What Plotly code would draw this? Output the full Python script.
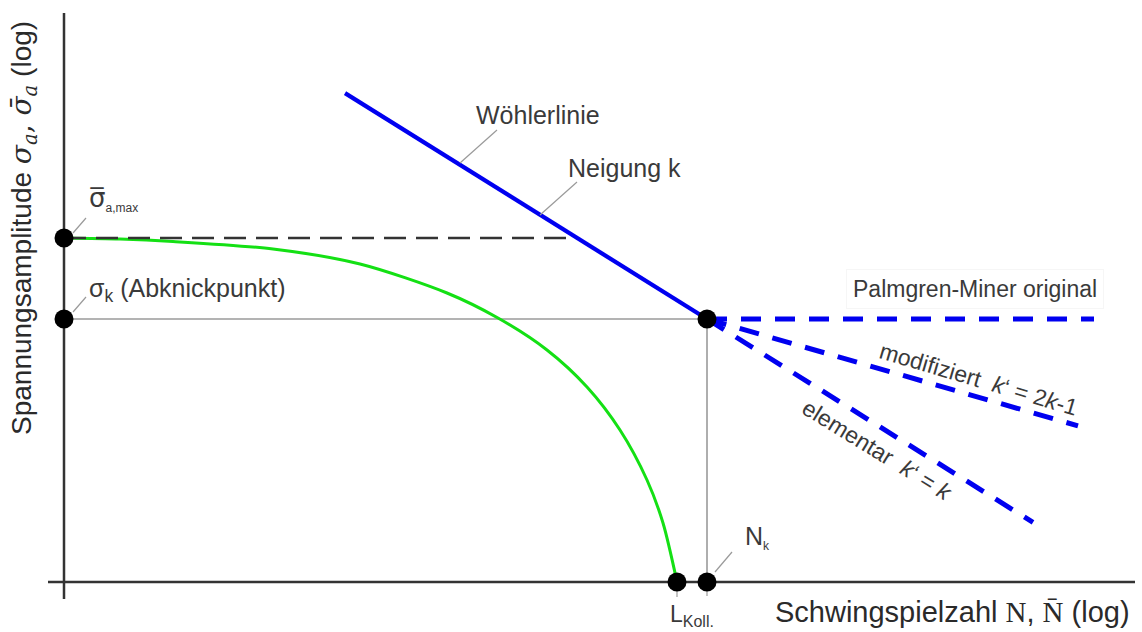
import plotly.graph_objects as go

# Coordinates: x = log N, y = log sigma (arbitrary log units, origin at the axis cross)
sigma_a_max = 3.44          # level of the highest collective amplitude
sigma_k = 2.63              # knee-point amplitude (Abknickpunkt)
N_k = 6.43                  # knee-point cycle number
L_koll = 6.13               # collective life
N_woehler_start = 2.81      # left end of the drawn S-N line
slope_k = 0.624             # Wöhler slope (in plot units)

# Extensions beyond the knee: end N and slope
ext_names = ["Palmgren-Miner original", "modifiziert", "elementar"]
ext_end_N = [10.30, 10.14, 9.69]
ext_slope = [0.0, 0.288, 0.624]

# Load collective (Kollektiv) curve
koll_N = [0.0, 0.56, 1.09, 2.09, 2.96, 3.83, 4.34, 4.83, 5.23, 5.56, 5.83, 5.99, 6.13]
koll_S = [3.44, 3.43, 3.405, 3.33, 3.18, 2.89, 2.64, 2.32, 1.95, 1.52, 1.02, 0.59, 0.0]

# Axis extents
x_axis_span = [-0.16, 10.71]
y_axis_span = [-0.17, 5.69]

BLUE = "#0000f0"
GREEN = "#14e014"
AXIS = "#333333"
THIN = "#9a9a9a"
TXT = "#3a3a3a"
SANS = "Liberation Sans, Arial, sans-serif"

fig = go.Figure()


def line(x, y, color, width, dash="solid", shape="linear", smoothing=1.0):
    fig.add_trace(go.Scatter(x=x, y=y, mode="lines", hoverinfo="skip",
                             line=dict(color=color, width=width, dash=dash, shape=shape,
                                       smoothing=smoothing)))


# coordinate axes
line([0, 0], y_axis_span, AXIS, 2.5)
line(x_axis_span, [0, 0], AXIS, 2.5)

# thin reference lines through the knee point
line([0, N_k], [sigma_k, sigma_k], THIN, 1.6)
line([N_k, N_k], [sigma_k, 0], THIN, 1.6)

# small ticks under the points on the N axis
line([L_koll, L_koll], [-0.06, -0.15], THIN, 1.2)
line([N_k, N_k], [-0.06, -0.14], THIN, 1.2)

# collective curve
line(koll_N, koll_S, GREEN, 3, shape="spline", smoothing=0.8)

# dashed level of sigma_a,max up to the S-N line
x_cross = N_k - (sigma_a_max - sigma_k) / slope_k
line([0, x_cross], [sigma_a_max, sigma_a_max], AXIS, 2.6, dash="22px,10px")

# S-N line (Wöhlerlinie)
line([N_woehler_start, N_k],
     [sigma_k + slope_k * (N_k - N_woehler_start), sigma_k], BLUE, 4.2)

# extensions beyond the knee
for xe, s in zip(ext_end_N, ext_slope):
    line([N_k, xe], [sigma_k, sigma_k - s * (xe - N_k)], BLUE, 5, dash="20px,14px")

# leader lines for the labels
leaders = [
    ([4.33, 3.96], [4.52, 4.19]),
    ([5.13, 4.76], [4.00, 3.67]),
    ([0.09, 0.22], [3.49, 3.64]),
    ([0.09, 0.22], [2.70, 2.85]),
    ([6.51, 6.68], [0.10, 0.30]),
]
for lx, ly in leaders:
    line(lx, ly, THIN, 1.2)

# characteristic points
fig.add_trace(go.Scatter(
    x=[0, 0, N_k, L_koll, N_k], y=[sigma_a_max, sigma_k, sigma_k, 0, 0],
    mode="markers", hoverinfo="skip",
    marker=dict(size=19, color="black")))


def note(x, y, text, size, xanchor="center", yanchor="middle", angle=0, color=TXT, **kw):
    fig.add_annotation(x=x, y=y, text=text, showarrow=False, xanchor=xanchor,
                       yanchor=yanchor, textangle=angle,
                       font=dict(family=SANS, size=size, color=color), **kw)


note(4.74, 4.67, "Wöhlerlinie", 25)
note(5.60, 4.14, "Neigung k", 25)
note(9.11, 2.93, "Palmgren-Miner original", 23, bgcolor="white",
     bordercolor="#f6f6f6", borderwidth=1, borderpad=6)
note(9.14, 2.03, "modifiziert  <i>k</i>‘ = 2<i>k</i>-1", 23, angle=16.5)
note(8.13, 1.32, "elementar  <i>k</i>‘ = <i>k</i>", 23, angle=31.5)

note(0.23, 3.83, "<span style='font-family:DejaVu Sans'>σ̅</span>"
     "<sub><span style='font-size:12px'>a,max</span></sub>", 26, xanchor="left")
note(0.23, 2.92, "σ<sub>k</sub> (Abknickpunkt)", 25, xanchor="left")
note(6.79, 0.45, "N<sub><span style='font-size:12px'>k</span></sub>", 25, xanchor="left")
note(6.04, -0.33, "L<sub><span style='font-size:16px'>Koll.</span></sub>", 23, xanchor="left")

# axis titles
note(7.09, -0.30, "Schwingspielzahl <span style='font-family:Liberation Serif'>N</span>, "
     "<span style='font-family:Liberation Serif'>N̄</span> (log)", 29, xanchor="left",
     color="#2a2a2a")
note(-0.41, 3.54, "Spannungsamplitude "
     "<span style='font-family:DejaVu Serif'><i>σ<sub>a</sub></i>, <i>σ̄<sub>a</sub></i></span> (log)",
     28, angle=-90, color="#2a2a2a")

fig.update_layout(
    width=1142, height=632,
    margin=dict(l=0, r=0, t=0, b=0),
    paper_bgcolor="white", plot_bgcolor="white",
    showlegend=False,
    xaxis=dict(range=[-0.64, 10.78], visible=False, fixedrange=True),
    yaxis=dict(range=[-0.50, 5.82], visible=False, fixedrange=True),
)

fig.write_html("out.html")
